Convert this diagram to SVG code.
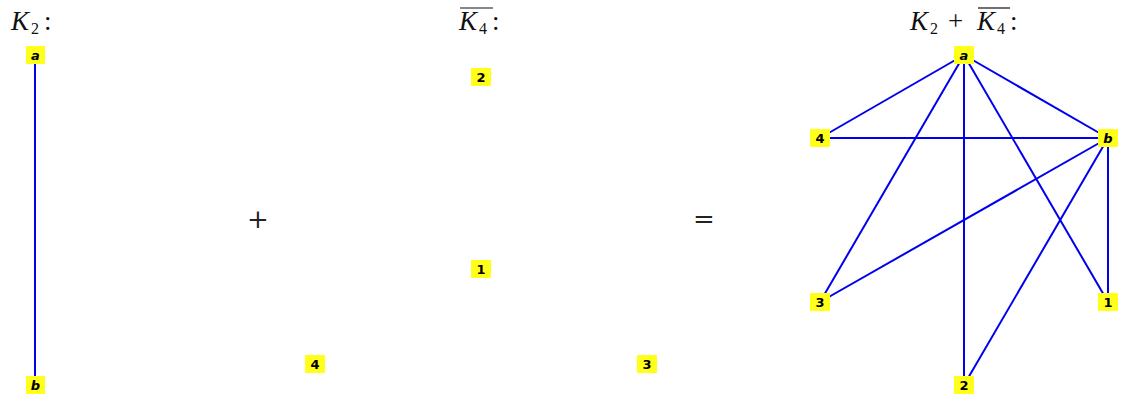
<svg xmlns="http://www.w3.org/2000/svg" width="1126" height="394" viewBox="0 0 1126 394">
<style>
.n rect{fill:#ffff1a;}
.n text{font-family:"DejaVu Sans",sans-serif;font-size:13px;font-weight:bold;text-anchor:middle;fill:#000;}
.n text.it{font-style:italic;}
.e line{stroke:#0000ee;stroke-width:2;}
.t{font-family:"Liberation Serif",serif;font-size:27px;fill:#111;}
.t .i{font-style:italic;}
.t .s{font-size:16px;}
.op{font-family:"DejaVu Serif",serif;font-size:26px;fill:#222;text-anchor:middle;}
</style>
<rect width="1126" height="394" fill="#fff"/>
<text class="t" y="30"><tspan class="i" x="11">K</tspan><tspan class="s" x="31" y="34">2</tspan><tspan x="44" y="30">:</tspan></text>
<text class="t" y="30"><tspan class="i" x="459">K</tspan><tspan class="s" x="479" y="34">4</tspan><tspan x="492" y="30">:</tspan></text>
<line x1="460" y1="8" x2="493" y2="8" stroke="#111" stroke-width="1.2"/>
<text class="t" y="30"><tspan class="i" x="910">K</tspan><tspan class="s" x="930" y="34">2</tspan><tspan x="948" y="30">+</tspan><tspan class="i" x="977">K</tspan><tspan class="s" x="997" y="34">4</tspan><tspan x="1010" y="30">:</tspan></text>
<line x1="978" y1="8" x2="1010" y2="8" stroke="#111" stroke-width="1.2"/>
<text class="op" x="258" y="228">+</text>
<text class="op" x="704" y="228">=</text>
<g class="e" id="edges">
<line x1="35" y1="55" x2="35" y2="385"/>
<line x1="964" y1="55" x2="820" y2="138"/>
<line x1="964" y1="55" x2="1108" y2="138"/>
<line x1="964" y1="55" x2="820" y2="302"/>
<line x1="964" y1="55" x2="964" y2="385"/>
<line x1="964" y1="55" x2="1108" y2="302"/>
<line x1="1108" y1="138" x2="820" y2="138"/>
<line x1="1108" y1="138" x2="820" y2="302"/>
<line x1="1108" y1="138" x2="964" y2="385"/>
<line x1="1108" y1="138" x2="1108" y2="302"/>
</g>
<g class="n" id="k2a"><rect x="26" y="46" width="19" height="18"/><text class="it" x="35.5" y="60">a</text></g>
<g class="n" id="k2b"><rect x="26" y="376" width="19" height="18"/><text class="it" x="35.5" y="390">b</text></g>
<g class="n" id="k4n2"><rect x="471" y="68" width="20" height="18"/><text x="481" y="82">2</text></g>
<g class="n" id="k4n1"><rect x="471" y="260" width="20" height="18"/><text x="481" y="274">1</text></g>
<g class="n" id="k4n4"><rect x="305" y="355" width="20" height="18"/><text x="315" y="369">4</text></g>
<g class="n" id="k4n3"><rect x="637" y="355" width="20" height="18"/><text x="647" y="369">3</text></g>
<g class="n" id="sa"><rect x="954" y="46" width="20" height="18"/><text class="it" x="964" y="60">a</text></g>
<g class="n" id="s4"><rect x="810" y="129" width="20" height="18"/><text x="820" y="143">4</text></g>
<g class="n" id="sb"><rect x="1098" y="129" width="20" height="18"/><text class="it" x="1108" y="143">b</text></g>
<g class="n" id="s3"><rect x="810" y="293" width="20" height="18"/><text x="820" y="307">3</text></g>
<g class="n" id="s1"><rect x="1098" y="293" width="20" height="18"/><text x="1108" y="307">1</text></g>
<g class="n" id="s2"><rect x="954" y="376" width="20" height="18"/><text x="964" y="390">2</text></g>
</svg>
